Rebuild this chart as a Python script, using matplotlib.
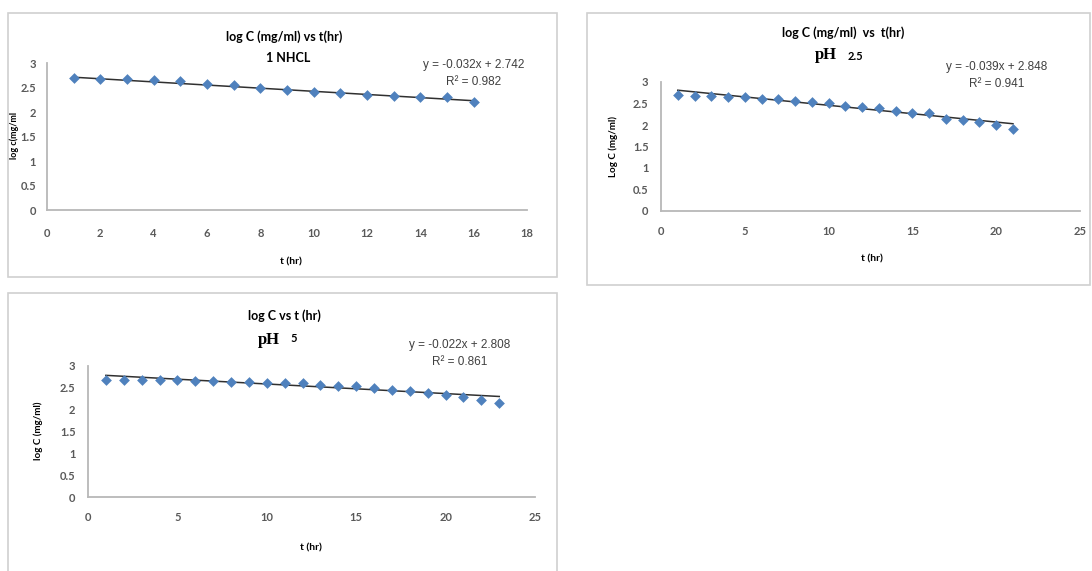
import numpy as np
import matplotlib
matplotlib.use('Agg')
import matplotlib.pyplot as plt
from matplotlib.patches import Rectangle

W, H = 1092, 571

# ---- data ----
t_hcl = list(range(1, 17))
logc_hcl = [2.70, 2.68, 2.67, 2.65, 2.63, 2.57, 2.55, 2.50, 2.45, 2.41,
            2.39, 2.35, 2.33, 2.31, 2.30, 2.20]
fit_hcl = [-0.032, 2.742]
r2_hcl = 0.982

t_ph25 = list(range(1, 22))
logc_ph25 = [2.69, 2.68, 2.67, 2.65, 2.64, 2.61, 2.60, 2.56, 2.54, 2.51,
             2.44, 2.43, 2.40, 2.33, 2.29, 2.27, 2.15, 2.11, 2.06, 2.00, 1.90]
fit_ph25 = [-0.039, 2.848]
r2_ph25 = 0.941

t_ph5 = list(range(1, 24))
logc_ph5 = [2.68, 2.68, 2.68, 2.67, 2.67, 2.66, 2.65, 2.64, 2.64, 2.62,
            2.61, 2.60, 2.57, 2.55, 2.54, 2.49, 2.46, 2.42, 2.38, 2.34,
            2.28, 2.22, 2.16]
fit_ph5 = [-0.022, 2.808]
r2_ph5 = 0.861

BLUE = '#4F81BD'
GREY = '#b8b8b8'
TXT = '#404040'
TICK = '#595959'
SANS = ['Lato', 'DejaVu Sans']
ARIAL = ['Liberation Sans', 'DejaVu Sans']
SERIF = ['Liberation Serif', 'DejaVu Serif']


def px(x, y):
    return x / W, 1 - y / H


fig = plt.figure(figsize=(W / 100, H / 100), dpi=100)
fig.patch.set_facecolor('white')

# chart frames
for x0, y0, x1, y1 in [(8, 13, 557, 277), (587, 13, 1090, 285), (8, 293, 557, 575)]:
    fig.patches.append(Rectangle(px(x0, y1), (x1 - x0) / W, (y1 - y0) / H,
                                 transform=fig.transFigure, fill=False,
                                 edgecolor='#d0d0d0', lw=1.2))


def panel(rect, t, y, fit, xmax, xstep, xpad, ypad):
    left, right, bottom, top = rect
    ax = fig.add_axes([left / W, 1 - bottom / H, (right - left) / W, (bottom - top) / H])
    ax.scatter(t, y, marker='D', s=30, color=BLUE, zorder=3, linewidths=0)
    tt = np.array([t[0], t[-1]])
    ax.plot(tt, fit[0] * tt + fit[1], color='#303030', lw=1.1, zorder=2)
    ax.set_xlim(0, xmax)
    ax.set_ylim(0, 3)
    ax.set_xticks(np.arange(0, xmax + 0.1, xstep))
    ax.set_yticks(np.arange(0, 3.01, 0.5))
    ax.set_yticklabels(['0', '0.5', '1', '1.5', '2', '2.5', '3'])
    for s in ['top', 'right']:
        ax.spines[s].set_visible(False)
    for s in ['left', 'bottom']:
        ax.spines[s].set_color(GREY)
        ax.spines[s].set_linewidth(1.3)
    ax.tick_params(axis='x', length=0, pad=xpad, labelsize=8, labelcolor=TICK)
    ax.tick_params(axis='y', length=0, pad=ypad, labelsize=8, labelcolor=TICK)
    for lab in ax.get_xticklabels() + ax.get_yticklabels():
        lab.set_family(SANS)
        lab.set_fontweight('bold')
    ax.patch.set_alpha(0)
    return ax


panel((47, 527, 210, 63), t_hcl, logc_hcl, fit_hcl, 18, 2, 13, 8)
panel((661, 1080, 211, 82), t_ph25, logc_ph25, fit_ph25, 25, 5, 11, 9)
panel((88, 535, 497, 366), t_ph5, logc_ph5, fit_ph5, 25, 5, 11, 9)


def txt(x, y, s, **kw):
    fig.text(*px(x, y), s, ha='center', va='center', **kw)


def eq_text(x, y, fit, r2):
    txt(x, y, f'y = {fit[0]:.3f}x + {fit[1]:.3f}', family=ARIAL, fontsize=8.5, color=TXT)
    txt(x, y + 17, f'R² = {r2:.3f}', family=ARIAL, fontsize=8.5, color=TXT)


# panel 1
txt(284, 37, 'log C (mg/ml) vs t(hr)', family=SANS, fontsize=9, fontweight='bold', color='black')
txt(288, 58, '1 NHCL', family=SANS, fontsize=9, fontweight='bold', color='black')
eq_text(474, 65, fit_hcl, r2_hcl)
txt(291, 262, 't (hr)', family=SANS, fontsize=7.5, fontweight='bold', color='black')
txt(14, 135, 'log c(mg/ml', family=SANS, fontsize=6.5, fontweight='bold', color='black', rotation=90)

# panel 2
txt(843, 33, 'log C (mg/ml)  vs  t(hr)', family=SANS, fontsize=9, fontweight='bold', color='black')
txt(826, 55, 'pH', family=SERIF, fontsize=12, fontweight='bold', color='black')
txt(855, 56, '2.5', family=SANS, fontsize=8, fontweight='bold', color='black')
eq_text(997, 67, fit_ph25, r2_ph25)
txt(872, 259, 't (hr)', family=SANS, fontsize=7.5, fontweight='bold', color='black')
txt(613, 147, 'Log C (mg/ml)', family=SANS, fontsize=7, fontweight='bold', color='black', rotation=90)

# panel 3
txt(284, 316, 'log C vs t (hr)', family=SANS, fontsize=9, fontweight='bold', color='black')
txt(269, 340, 'pH', family=SERIF, fontsize=12, fontweight='bold', color='black')
txt(294, 338, '5', family=SANS, fontsize=8, fontweight='bold', color='black')
eq_text(460, 345, fit_ph5, r2_ph5)
txt(311, 548, 't (hr)', family=SANS, fontsize=7.5, fontweight='bold', color='black')
txt(38, 431, 'log C (mg/ml)', family=SANS, fontsize=7, fontweight='bold', color='black', rotation=90)

plt.savefig('out.png', dpi=100, facecolor='white')
